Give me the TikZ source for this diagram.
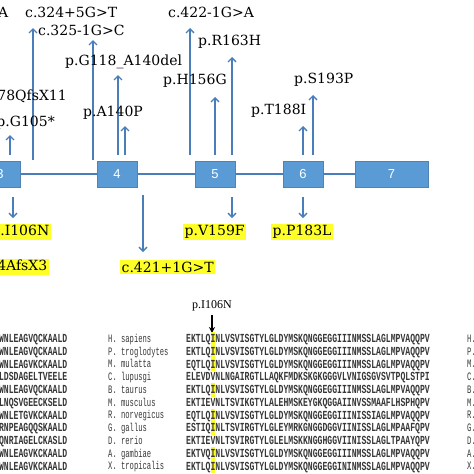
\documentclass[tikz,border=0pt]{standalone}
\usepackage{fontspec}
\usetikzlibrary{arrows.meta}
\newfontfamily\lblfont{DejaVu Serif}
\newfontfamily\numfont{Liberation Sans}
\newfontfamily\seqfont[FakeStretch=0.66]{Liberation Mono}
\newfontfamily\spfont[FakeStretch=0.63]{Liberation Mono}
\newfontfamily\tfont{Liberation Serif}
\definecolor{exonblue}{RGB}{91,155,213}
\definecolor{arrowblue}{RGB}{74,126,187}
\definecolor{hl}{RGB}{255,255,40}
\definecolor{seqgray}{RGB}{55,55,55}
\tikzset{
  lbl/.style={font=\lblfont\fontsize{14}{14}\selectfont, inner sep=0pt, anchor=west},
  lble/.style={lbl, anchor=east},
  hlbl/.style={lbl, fill=hl, inner sep=1.5pt},
  hlble/.style={hlbl, anchor=east},
  exon/.style={fill=exonblue, draw=exonblue!85!black, line width=0.6pt},
  exnum/.style={font=\numfont\fontsize{13}{13}\selectfont, text=white},
  mut/.style={draw=arrowblue, line width=1.6pt, -{Straight Barb[length=4pt,width=8pt,line width=1.4pt]}},
  seqtxt/.style={font=\seqfont\bfseries\fontsize{12.3}{12.3}\selectfont, text=seqgray, inner sep=0pt},
  sptxt/.style={font=\spfont\fontsize{11.4}{11.4}\selectfont, text=seqgray, inner sep=0pt, anchor=base west},
}
\begin{document}
\begin{tikzpicture}[x=1pt,y=-1pt]
\useasboundingbox (0,0) rectangle (474,474);
\clip (0,0) rectangle (474,474);
% gene backbone
\coordinate (gl) at (-5,174);
\coordinate (gr) at (360,174);
\draw[arrowblue, line width=1.5pt] (gl) -- (gr);
% exons
\node[exon, minimum width=40pt, minimum height=26pt, inner sep=0pt] (e3) at (0,174) {};
\node[exon, minimum width=40pt, minimum height=26pt, inner sep=0pt] (e4) at (117,174) {};
\node[exon, minimum width=40pt, minimum height=26pt, inner sep=0pt] (e5) at (215,174) {};
\node[exon, minimum width=40pt, minimum height=26pt, inner sep=0pt] (e6) at (303,174) {};
\node[exon, minimum width=73pt, minimum height=26pt, inner sep=0pt] (e7) at (391.5,174) {};
\node[exnum] (n3) at (e3) {3};
\node[exnum] (n4) at (e4) {4};
\node[exnum] (n5) at (e5) {5};
\node[exnum] (n6) at (e6) {6};
\node[exnum] (n7) at (e7) {7};
% upward mutation arrows
\foreach \n/\x/\ya/\yb in {1/10/155/135, 2/33/160/28, 3/93/160/40, 4/118/155/75, 5/125/155/126,
  6/190/155/28, 7/215/155/97, 8/232/155/57, 9/303/155/126, 10/313/155/95}{
  \coordinate (u\n s) at (\x,\ya);
  \coordinate (u\n e) at (\x,\yb);
  \draw[mut] (u\n s) -- (u\n e);
}
% downward mutation arrows
\foreach \n/\x/\ya/\yb in {1/13/197/218, 2/143/195/252, 3/232/197/218, 4/303/197/218}{
  \coordinate (d\n s) at (\x,\ya);
  \coordinate (d\n e) at (\x,\yb);
  \draw[mut] (d\n s) -- (d\n e);
}
% top labels
\node[lble] (tA) at (8.5,12) {G>A};
\node[lbl] (t1) at (25,12) {c.324+5G>T};
\node[lbl] (t2) at (38,30) {c.325-1G>C};
\node[lbl] (t3) at (65,62) {p.G118\_A140del};
\node[lbl] (t4) at (83,113) {p.A140P};
\node[lbl] (t5) at (168,12) {c.422-1G>A};
\node[lbl] (t6) at (198,42) {p.R163H};
\node[lbl] (t7) at (163,81) {p.H156G};
\node[lbl] (t8) at (251,111) {p.T188I};
\node[lbl] (t9) at (294,80) {p.S193P};
\node[lble] (t10) at (67,97) {p.L78QfsX11};
\node[lble] (t11) at (55,123) {p.G105*};
% highlighted labels
\node[hlble] (b1) at (51,232) {p.I106N};
\node[hlbl] (b2) at (183,232) {p.V159F};
\node[hlbl] (b3) at (271,232) {p.P183L};
\node[hlble] (b4) at (49,267) {p.L104AfsX3};
\node[hlbl] (b5) at (120,267) {c.421+1G>T};
% alignment
\node[font=\tfont\fontsize{12}{12}\selectfont, inner sep=0pt] (ptag) at (212,306) {p.I106N};
\coordinate (ks) at (212,315);
\coordinate (ke) at (212,333);
\draw[line width=1.3pt, -{Stealth[length=6pt,width=6pt]}] (ks) -- (ke);
\foreach \i/\h/\L/\M/\S in {
 0/1/WNLEAGVQCKAALD/EKTLQINLVSVISGTYLGLDYMSKQNGGEGGIIINMSSLAGLMPVAQQPV/H. sapiens,
 1/1/WNLEAGVQCKAALD/EKTLQINLVSVISGTYLGLDYMSKQNGGEGGIIINMSSLAGLMPVAQQPV/P. troglodytes,
 2/1/WNLEAGVKCKAALD/EQTLQINLVSVISGTYLGLDYMSKQNGGEGGIIINMSSLAGLMPVAQQPV/M. mulatta,
 3/0/LDSDAGELTVEELE/ELEVDVNLNGAIRGTLLAQKFMDKSKGKGGGVLVNIGSGVSVTPQLSTPI/C. lupusgi,
 4/1/WNLEAGVQCKAALD/EKTLQINLVSVISGTYLGLDYMSKQNGGEGGIIINMSSLAGLMPVAQQPV/B. taurus,
 5/0/LNQSVGEECKSELD/EKTIEVNLTSVIKGTYLALEHMSKEYGKQGGAIINVSSMAAFLHSPHQPV/M. musculus,
 6/1/WNLETGVKCKAALD/EQTLQINLVSVISGTYLGLDYMSKQNGGEGGIIINISSIAGLMPVAQQPV/R. norvegicus,
 7/1/RNPEAGQQSKAALD/ESTIQINLTSVIRGTYLGLEYMRKGNGGDGGVIINISSLAGLMPAAFQPV/G. gallus,
 8/0/QNRIAGELCKASLD/EKTIEVNLTSVIRGTYLGLELMSKKNGGHGGVIINISSLAGLTPAAYQPV/D. rerio,
 9/1/WNLEAGVKCKAALD/EKTVQINLVSVISGTYLGLDYMSKQNGGEGGIIINMSSLAGLMPVAQQPV/A. gambiae,
 10/1/WNLEAGVKCKAALD/EKTLQINLVSVISGTYLGLDYMSKQNGGEGGININMSSLAGLMPVAQQPV/X. tropicalis}{
  \pgfmathsetmacro\yy{339+12.75*\i}
  \ifnum\h=1
    \fill[hl] (210.6,{\yy-6.6}) rectangle (215.4,{\yy+6.6});
  \fi
  \node[seqtxt, anchor=base east] (L\i) at (67.5,{\yy+3.6}) {\L};
  \node[sptxt] (S\i) at (108,{\yy+3.4}) {\S};
  \node[seqtxt, anchor=base west] (M\i) at (186,{\yy+3.6}) {\M};
  \node[sptxt] (R\i) at (467,{\yy+3.4}) {\S};
}
\end{tikzpicture}
\end{document}
